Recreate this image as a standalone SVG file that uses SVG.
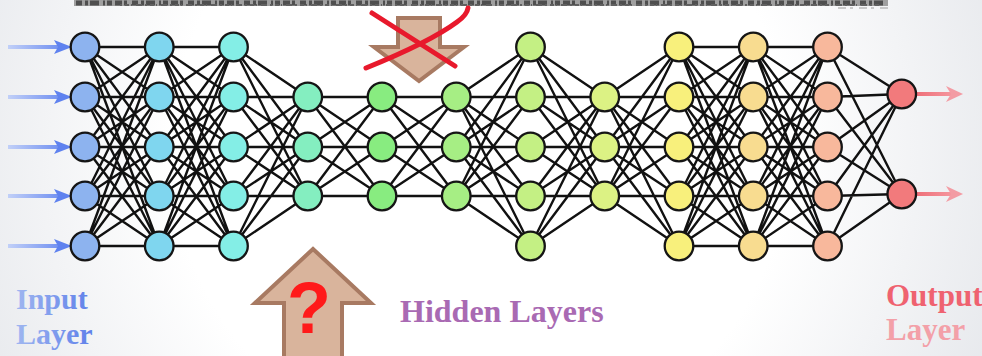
<svg xmlns="http://www.w3.org/2000/svg" xmlns:xlink="http://www.w3.org/1999/xlink" width="982" height="356" viewBox="0 0 982 356">
  <style>
    .edge { fill: none; stroke: #111; stroke-width: 2.4; }
    .node { stroke: #151515; stroke-width: 2.3; }
    .l1 { fill: #8db3ef; } .l2 { fill: #7fd6ef; } .l3 { fill: #84eee6; }
    .l4 { fill: #84eec0; } .l5 { fill: #88ec80; } .l6 { fill: #a6ee84; }
    .l7 { fill: #c4f084; } .l8 { fill: #dcf284; } .l9 { fill: #f8f07c; }
    .l10 { fill: #f8dc90; } .l11 { fill: #f8b89c; } .l12 { fill: #f27a7c; }
    .bigArrow { fill: #d9b49c; stroke: #a87a62; stroke-width: 4; stroke-linejoin: miter; }
    .label { font-family: "Liberation Serif", "Times New Roman", serif; font-weight: bold; }
  </style>
  <defs>
    <radialGradient id="bg" cx="480" cy="150" r="560" gradientUnits="userSpaceOnUse">
      <stop offset="0.55" stop-color="#ffffff"/>
      <stop offset="1" stop-color="#e6e8ec"/>
    </radialGradient>
    <linearGradient id="inGrad" x1="6" y1="0" x2="72" y2="0" gradientUnits="userSpaceOnUse">
      <stop offset="0" stop-color="#c4d2f8"/>
      <stop offset="1" stop-color="#5f82ef"/>
    </linearGradient>
    <linearGradient id="outGrad" x1="916" y1="0" x2="964" y2="0" gradientUnits="userSpaceOnUse">
      <stop offset="0" stop-color="#ee6f78"/>
      <stop offset="1" stop-color="#f7a2aa"/>
    </linearGradient>
    <linearGradient id="inText" x1="16" y1="0" x2="92" y2="0" gradientUnits="userSpaceOnUse">
      <stop offset="0" stop-color="#9fb6f0"/>
      <stop offset="1" stop-color="#5f80ea"/>
    </linearGradient>
    <filter id="soft" x="-5%" y="-100%" width="110%" height="300%">
      <feGaussianBlur stdDeviation="0.7"/>
    </filter>
    <!-- full connection patterns between two adjacent layers (74.25 px apart) -->
    <path id="k55" class="edge" d="M0 47L74.25 47M0 47L74.25 97M0 47L74.25 147M0 47L74.25 196M0 47L74.25 246M0 97L74.25 47M0 97L74.25 97M0 97L74.25 147M0 97L74.25 196M0 97L74.25 246M0 147L74.25 47M0 147L74.25 97M0 147L74.25 147M0 147L74.25 196M0 147L74.25 246M0 196L74.25 47M0 196L74.25 97M0 196L74.25 147M0 196L74.25 196M0 196L74.25 246M0 246L74.25 47M0 246L74.25 97M0 246L74.25 147M0 246L74.25 196M0 246L74.25 246"/>
    <path id="k53" class="edge" d="M0 47L74.25 97M0 47L74.25 147M0 47L74.25 196M0 97L74.25 97M0 97L74.25 147M0 97L74.25 196M0 147L74.25 97M0 147L74.25 147M0 147L74.25 196M0 196L74.25 97M0 196L74.25 147M0 196L74.25 196M0 246L74.25 97M0 246L74.25 147M0 246L74.25 196"/>
    <path id="k35" class="edge" d="M0 97L74.25 47M0 147L74.25 47M0 196L74.25 47M0 97L74.25 97M0 147L74.25 97M0 196L74.25 97M0 97L74.25 147M0 147L74.25 147M0 196L74.25 147M0 97L74.25 196M0 147L74.25 196M0 196L74.25 196M0 97L74.25 246M0 147L74.25 246M0 196L74.25 246"/>
    <path id="k33" class="edge" d="M0 97L74.25 97M0 97L74.25 147M0 97L74.25 196M0 147L74.25 97M0 147L74.25 147M0 147L74.25 196M0 196L74.25 97M0 196L74.25 147M0 196L74.25 196"/>
    <path id="k52" class="edge" d="M0 47L74.25 94M0 47L74.25 194M0 97L74.25 94M0 97L74.25 194M0 147L74.25 94M0 147L74.25 194M0 196L74.25 94M0 196L74.25 194M0 246L74.25 94M0 246L74.25 194"/>
    <g id="inArrow">
      <path d="M8 0H60" stroke="url(#inGrad)" stroke-width="4"/>
      <path d="M54 -7L72 0L54 7L58 0Z" fill="#5f82ef"/>
    </g>
    <g id="outArrow">
      <path d="M916 0H955" stroke="url(#outGrad)" stroke-width="4"/>
      <path d="M946 -8L963 0L946 8L951 0Z" fill="#f39ba3"/>
    </g>
  </defs>

  <rect width="982" height="356" fill="url(#bg)"/>

  <!-- scanned line of text cut off at the top edge -->
  <g filter="url(#soft)" fill="none">
    <path d="M74 3H888" stroke="#a0a0a0" stroke-width="6"/>
    <path d="M76 3H886" stroke="#505050" stroke-width="5" stroke-dasharray="6 3 3 2 9 4 2 2 5 3 7 2 3 5"/>
    <path d="M120 5H880" stroke="#606060" stroke-width="2" stroke-dasharray="2 3 4 2 1 4 6 3"/>
    <path d="M838 8H890" stroke="#bbb" stroke-width="1.5" stroke-dasharray="8 4 3 6"/>
  </g>

  <!-- connectors -->
  <g id="connectors">
    <use href="#k55" x="85"/>
    <use href="#k55" x="159.25"/>
    <use href="#k53" x="233.5"/>
    <use href="#k33" x="307.75"/>
    <use href="#k33" x="382"/>
    <use href="#k35" x="456.25"/>
    <use href="#k53" x="530.5"/>
    <use href="#k35" x="604.75"/>
    <use href="#k55" x="679"/>
    <use href="#k55" x="753.25"/>
    <use href="#k52" x="827.5"/>
  </g>

  <!-- input and output arrows -->
  <g id="inputs">
    <use href="#inArrow" y="47"/>
    <use href="#inArrow" y="97"/>
    <use href="#inArrow" y="147"/>
    <use href="#inArrow" y="196"/>
    <use href="#inArrow" y="246"/>
  </g>
  <g id="outputs">
    <use href="#outArrow" y="94"/>
    <use href="#outArrow" y="194"/>
  </g>

  <!-- layer 1 (input) -->
  <g id="n1-1"><circle class="node l1" cx="85" cy="47" r="14.3"/></g>
  <g id="n1-2"><circle class="node l1" cx="85" cy="97" r="14.3"/></g>
  <g id="n1-3"><circle class="node l1" cx="85" cy="147" r="14.3"/></g>
  <g id="n1-4"><circle class="node l1" cx="85" cy="196" r="14.3"/></g>
  <g id="n1-5"><circle class="node l1" cx="85" cy="246" r="14.3"/></g>
  <!-- layer 2 -->
  <g id="n2-1"><circle class="node l2" cx="159.25" cy="47" r="14.3"/></g>
  <g id="n2-2"><circle class="node l2" cx="159.25" cy="97" r="14.3"/></g>
  <g id="n2-3"><circle class="node l2" cx="159.25" cy="147" r="14.3"/></g>
  <g id="n2-4"><circle class="node l2" cx="159.25" cy="196" r="14.3"/></g>
  <g id="n2-5"><circle class="node l2" cx="159.25" cy="246" r="14.3"/></g>
  <!-- layer 3 -->
  <g id="n3-1"><circle class="node l3" cx="233.5" cy="47" r="14.3"/></g>
  <g id="n3-2"><circle class="node l3" cx="233.5" cy="97" r="14.3"/></g>
  <g id="n3-3"><circle class="node l3" cx="233.5" cy="147" r="14.3"/></g>
  <g id="n3-4"><circle class="node l3" cx="233.5" cy="196" r="14.3"/></g>
  <g id="n3-5"><circle class="node l3" cx="233.5" cy="246" r="14.3"/></g>
  <!-- layer 4 -->
  <g id="n4-1"><circle class="node l4" cx="307.75" cy="97" r="14.3"/></g>
  <g id="n4-2"><circle class="node l4" cx="307.75" cy="147" r="14.3"/></g>
  <g id="n4-3"><circle class="node l4" cx="307.75" cy="196" r="14.3"/></g>
  <!-- layer 5 -->
  <g id="n5-1"><circle class="node l5" cx="382" cy="97" r="14.3"/></g>
  <g id="n5-2"><circle class="node l5" cx="382" cy="147" r="14.3"/></g>
  <g id="n5-3"><circle class="node l5" cx="382" cy="196" r="14.3"/></g>
  <!-- layer 6 -->
  <g id="n6-1"><circle class="node l6" cx="456.25" cy="97" r="14.3"/></g>
  <g id="n6-2"><circle class="node l6" cx="456.25" cy="147" r="14.3"/></g>
  <g id="n6-3"><circle class="node l6" cx="456.25" cy="196" r="14.3"/></g>
  <!-- layer 7 -->
  <g id="n7-1"><circle class="node l7" cx="530.5" cy="47" r="14.3"/></g>
  <g id="n7-2"><circle class="node l7" cx="530.5" cy="97" r="14.3"/></g>
  <g id="n7-3"><circle class="node l7" cx="530.5" cy="147" r="14.3"/></g>
  <g id="n7-4"><circle class="node l7" cx="530.5" cy="196" r="14.3"/></g>
  <g id="n7-5"><circle class="node l7" cx="530.5" cy="246" r="14.3"/></g>
  <!-- layer 8 -->
  <g id="n8-1"><circle class="node l8" cx="604.75" cy="97" r="14.3"/></g>
  <g id="n8-2"><circle class="node l8" cx="604.75" cy="147" r="14.3"/></g>
  <g id="n8-3"><circle class="node l8" cx="604.75" cy="196" r="14.3"/></g>
  <!-- layer 9 -->
  <g id="n9-1"><circle class="node l9" cx="679" cy="47" r="14.3"/></g>
  <g id="n9-2"><circle class="node l9" cx="679" cy="97" r="14.3"/></g>
  <g id="n9-3"><circle class="node l9" cx="679" cy="147" r="14.3"/></g>
  <g id="n9-4"><circle class="node l9" cx="679" cy="196" r="14.3"/></g>
  <g id="n9-5"><circle class="node l9" cx="679" cy="246" r="14.3"/></g>
  <!-- layer 10 -->
  <g id="n10-1"><circle class="node l10" cx="753.25" cy="47" r="14.3"/></g>
  <g id="n10-2"><circle class="node l10" cx="753.25" cy="97" r="14.3"/></g>
  <g id="n10-3"><circle class="node l10" cx="753.25" cy="147" r="14.3"/></g>
  <g id="n10-4"><circle class="node l10" cx="753.25" cy="196" r="14.3"/></g>
  <g id="n10-5"><circle class="node l10" cx="753.25" cy="246" r="14.3"/></g>
  <!-- layer 11 -->
  <g id="n11-1"><circle class="node l11" cx="827.5" cy="47" r="14.3"/></g>
  <g id="n11-2"><circle class="node l11" cx="827.5" cy="97" r="14.3"/></g>
  <g id="n11-3"><circle class="node l11" cx="827.5" cy="147" r="14.3"/></g>
  <g id="n11-4"><circle class="node l11" cx="827.5" cy="196" r="14.3"/></g>
  <g id="n11-5"><circle class="node l11" cx="827.5" cy="246" r="14.3"/></g>
  <!-- layer 12 (output) -->
  <g id="n12-1"><circle class="node l12" cx="901.75" cy="94" r="14.3"/></g>
  <g id="n12-2"><circle class="node l12" cx="901.75" cy="194" r="14.3"/></g>

  <!-- crossed-out downward arrow -->
  <g id="down-arrow">
    <path class="bigArrow" d="M398 18H440V47H464L419 81L374 47H398Z"/>
    <path d="M372 13L455 66" fill="none" stroke="#e8192c" stroke-width="5" stroke-linecap="round"/>
    <path d="M366 68Q430 42 457 22Q467 15 468 8" fill="none" stroke="#e8192c" stroke-width="5" stroke-linecap="round"/>
  </g>

  <!-- upward arrow with question mark -->
  <g id="up-arrow">
    <path class="bigArrow" d="M313 249L371 303H342V360H284V303H255Z"/>
    <text x="309" y="333" text-anchor="middle" font-family="Liberation Sans, Arial, sans-serif" font-weight="bold" font-size="72" fill="#ff1a1a">?</text>
  </g>

  <!-- labels -->
  <g id="labels">
    <text class="label" x="16" y="309" font-size="30" fill="url(#inText)">Input</text>
    <text class="label" x="16" y="344" font-size="30" fill="url(#inText)">Layer</text>
    <text class="label" x="400" y="322" font-size="32" fill="#a96ab3">Hidden Layers</text>
    <text class="label" x="886" y="306" font-size="31" fill="#ef6270">Output</text>
    <text class="label" x="886" y="340" font-size="31" fill="#f3a0a8">Layer</text>
  </g>
</svg>
